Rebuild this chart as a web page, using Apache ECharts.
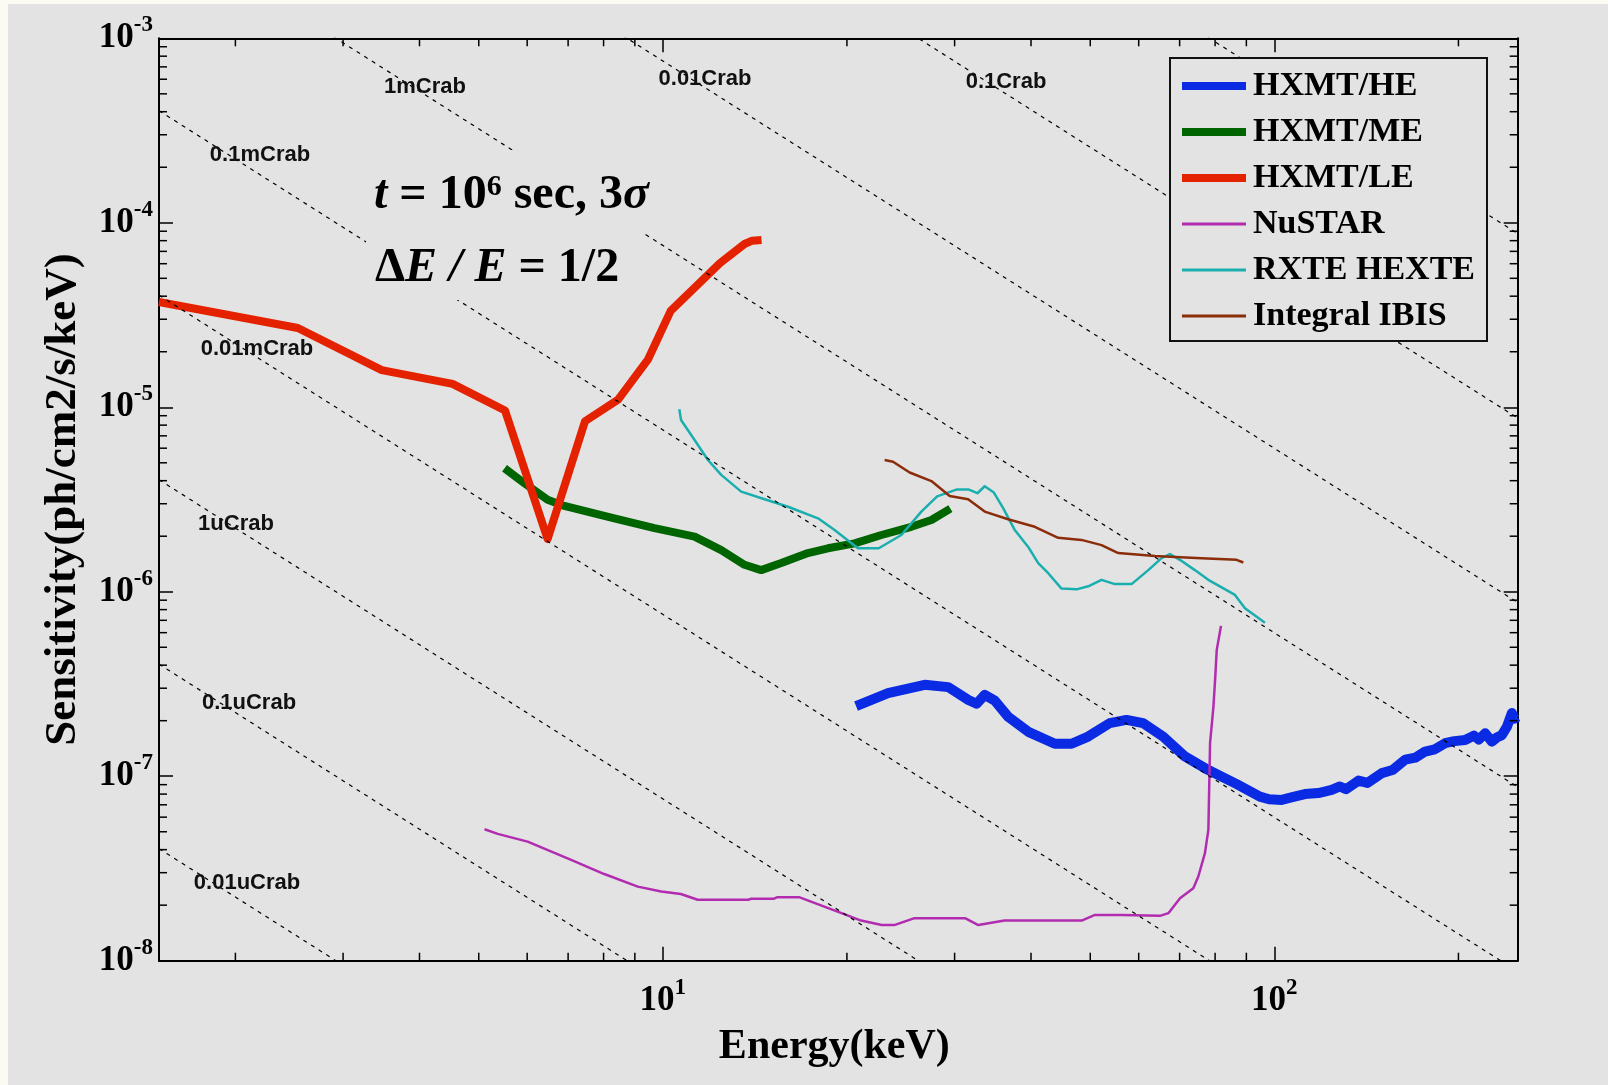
<!DOCTYPE html>
<html><head><meta charset="utf-8">
<script src="https://cdn.jsdelivr.net/npm/echarts@6/dist/echarts.min.js"></script>
<style>
html,body{margin:0;padding:0;background:#fbfbf4;width:1608px;height:1085px;overflow:hidden}
#chart{position:absolute;left:8px;top:4px;width:1600px;height:1081px}
</style></head><body><div id="chart"></div>
<script>
// ---------- data (energy keV, sensitivity ph/cm2/s/keV) ----------
const seriesNames = ['HXMT/HE','HXMT/ME','HXMT/LE','NuSTAR','RXTE HEXTE','Integral IBIS'];

const heData = [[20.7,2.40e-7],[23.35,2.82e-7],[26.8,3.13e-7],[29.3,3.04e-7],[31.6,2.59e-7],[32.6,2.47e-7],[33.6,2.76e-7],[34.9,2.57e-7],[36.7,2.10e-7],[39.6,1.74e-7],[43.75,1.50e-7],[46.6,1.50e-7],[49.6,1.64e-7],[53.8,1.94e-7],[57.3,2.02e-7],[61.0,1.94e-7],[65.8,1.64e-7],[71.4,1.28e-7],[78.0,1.08e-7],[86.8,9.06e-8],[94.7,7.75e-8],[98,7.5e-8],[102.8,7.44e-8],[107,7.7e-8],[112.2,8.0e-8],[118,8.1e-8],[124.1,8.43e-8],[128,8.8e-8],[131,8.5e-8],[137.3,9.47e-8],[142,9.2e-8],[149.9,1.04e-7],[156,1.08e-7],[163.7,1.23e-7],[170,1.26e-7],[176.4,1.36e-7],[183,1.40e-7],[190.2,1.51e-7],[197,1.55e-7],[205.1,1.57e-7],[212,1.66e-7],[216,1.58e-7],[221.2,1.71e-7],[226.8,1.54e-7],[231,1.62e-7],[235.5,1.67e-7],[240,1.85e-7],[244.6,2.20e-7],[247,2.05e-7],[250,2.10e-7]];

const meData = [[5.51,4.67e-6],[5.94,3.87e-6],[6.48,3.15e-6],[6.90,2.92e-6],[8.33,2.50e-6],[9.69,2.21e-6],[11.27,1.99e-6],[12.46,1.68e-6],[13.6,1.40e-6],[14.48,1.31e-6],[15.62,1.43e-6],[17.27,1.62e-6],[18.62,1.72e-6],[20.59,1.83e-6],[22.77,2.03e-6],[25.49,2.25e-6],[27.49,2.45e-6],[29.53,2.82e-6]];

const leData = [[1.5,3.72e-5],[2.53,2.69e-5],[3.47,1.59e-5],[4.53,1.34e-5],[5.52,9.6e-6],[6.48,1.93e-6],[7.46,8.4e-6],[8.45,1.10e-5],[9.46,1.82e-5],[10.3,3.33e-5],[12.4,6.05e-5],[13.6,7.67e-5],[14.0,8.0e-5],[14.5,8.07e-5]];

const nustarData = [[5.11,5.16e-8],[5.37,4.87e-8],[6.01,4.42e-8],[7.08,3.52e-8],[8.02,2.95e-8],[9.10,2.52e-8],[9.94,2.37e-8],[10.7,2.30e-8],[11.4,2.14e-8],[13.8,2.14e-8],[13.95,2.17e-8],[15.2,2.17e-8],[15.4,2.21e-8],[16.7,2.21e-8],[19.6,1.81e-8],[21.1,1.65e-8],[22.8,1.56e-8],[23.9,1.56e-8],[25.8,1.70e-8],[31.2,1.70e-8],[32.8,1.56e-8],[36.2,1.65e-8],[48.4,1.65e-8],[50.9,1.77e-8],[56.3,1.77e-8],[65.0,1.75e-8],[67.1,1.81e-8],[70.1,2.18e-8],[73.7,2.47e-8],[75.1,2.86e-8],[77.0,3.83e-8],[78.0,5.12e-8],[78.5,1.51e-7],[79.5,2.38e-7],[80.0,3.33e-7],[80.5,4.84e-7],[81.8,6.53e-7]];

const hexteData = [[10.64,9.76e-6],[10.71,8.53e-6],[11.27,6.65e-6],[11.85,5.18e-6],[12.46,4.30e-6],[13.43,3.49e-6],[14.67,3.17e-6],[16.02,2.89e-6],[17.94,2.50e-6],[19.09,2.16e-6],[20.85,1.72e-6],[22.55,1.72e-6],[24.55,2.03e-6],[26.47,2.72e-6],[28.09,3.29e-6],[30.2,3.58e-6],[31.66,3.58e-6],[32.69,3.42e-6],[33.6,3.73e-6],[34.78,3.45e-6],[36.02,2.84e-6],[37.63,2.16e-6],[39.58,1.75e-6],[41.1,1.43e-6],[42.68,1.26e-6],[44.87,1.04e-6],[47.48,1.03e-6],[49.62,1.07e-6],[52.17,1.16e-6],[54.85,1.10e-6],[58.41,1.10e-6],[62.21,1.31e-6],[65.4,1.52e-6],[67.48,1.60e-6],[70.08,1.49e-6],[74.13,1.31e-6],[77.98,1.16e-6],[86.22,9.61e-7],[89.53,8.14e-7],[96.52,6.80e-7]];

const ibisData = [[23.05,5.18e-6],[23.79,5.07e-6],[25.33,4.43e-6],[27.49,3.98e-6],[29.45,3.30e-6],[31.57,3.17e-6],[33.6,2.72e-6],[36.69,2.47e-6],[40.57,2.25e-6],[44.31,1.96e-6],[48.37,1.91e-6],[52.17,1.79e-6],[55.55,1.62e-6],[63.78,1.56e-6],[76.03,1.52e-6],[86.76,1.49e-6],[88.97,1.44e-6]];

// Crab reference lines (end points at the two x-axis limits)
const crabLineEnds = [
  [[1.5,4.05e-8],[250,8.74e-13]],
  [[1.5,4.05e-7],[250,8.74e-12]],
  [[1.5,4.05e-6],[250,8.74e-11]],
  [[1.5,4.05e-5],[250,8.74e-10]],
  [[1.5,4.05e-4],[250,8.74e-9]],
  [[1.5,4.05e-3],[250,8.74e-8]],
  [[1.5,4.05e-2],[250,8.74e-7]],
  [[1.5,4.05e-1],[250,8.74e-6]],
  [[1.5,4.05],[250,8.74e-5]]
];
const crabLabels = ['0.01uCrab','0.1uCrab','1uCrab','0.01mCrab','0.1mCrab','1mCrab','0.01Crab','0.1Crab'];

// axis extents and tick values
const xRange = [1.5, 250];
const yRange = [1e-8, 1e-3];
const xMinorTicks = [2,3,4,5,6,7,8,9,20,30,40,50,60,70,80,90,200];
const yMinorTicks = [2e-8,3e-8,4e-8,5e-8,6e-8,7e-8,8e-8,9e-8,
  2e-7,3e-7,4e-7,5e-7,6e-7,7e-7,8e-7,9e-7,
  2e-6,3e-6,4e-6,5e-6,6e-6,7e-6,8e-6,9e-6,
  2e-5,3e-5,4e-5,5e-5,6e-5,7e-5,8e-5,9e-5,
  2e-4,3e-4,4e-4,5e-4,6e-4,7e-4,8e-4,9e-4];

// ---------- styling / layout ----------
const OFF = [8, 4]; // chart div offset in page
const colors = ['#0a2ae4','#006400','#e52200','#b22cb0','#1aaeae','#8b2d0a'];
const widths = [10, 8, 8, 2.5, 2.5, 2.5];
const serif = 'Liberation Serif';

function powFmt(v) {
  const e = Math.log10(v);
  const n = Math.round(e);
  if (Math.abs(e - n) > 0.01) return '';
  return '{b|10}{s|' + n + '}';
}
const labelRich = {
  b: {fontFamily: serif, fontWeight: 'bold', fontSize: 35, color: '#000', padding: [7, 0, 7, 0]},
  s: {fontFamily: serif, fontWeight: 'bold', fontSize: 23, color: '#000', verticalAlign: 'top'}
};
const axLine = {show: true, onZero: false, lineStyle: {color: '#000', width: 2}};
const axTick = {show: true, inside: true, length: 14, lineStyle: {color: '#000', width: 1.5}};

function tickSeries(vals, dir) {
  return {
    type: 'custom', silent: true, z: 4, xAxisIndex: 0, yAxisIndex: 0,
    data: vals.map(v => dir === 'x' ? [v, yRange[0]] : [xRange[0], v]),
    renderItem(params, api) {
      const cs = params.coordSys;
      const p = api.coord([api.value(0), api.value(1)]);
      const L = 8, st = {stroke: '#000', lineWidth: 1.5};
      if (dir === 'x') {
        const x = p[0], yb = cs.y + cs.height, yt = cs.y;
        return {type: 'group', children: [
          {type: 'line', shape: {x1: x, y1: yb, x2: x, y2: yb - L}, style: st},
          {type: 'line', shape: {x1: x, y1: yt, x2: x, y2: yt + L}, style: st}
        ]};
      }
      const y = p[1], xl = cs.x, xr = cs.x + cs.width;
      return {type: 'group', children: [
        {type: 'line', shape: {x1: xl, y1: y, x2: xl + L, y2: y}, style: st},
        {type: 'line', shape: {x1: xr, y1: y, x2: xr - L, y2: y}, style: st}
      ]};
    }
  };
}

const dataSets = [heData, meData, leData, nustarData, hexteData, ibisData];
const series = [];
dataSets.forEach((d, i) => {
  series.push({
    name: seriesNames[i], type: 'line', data: d, showSymbol: false, symbol: 'none',
    z: 2, silent: true,
    lineStyle: {color: colors[i], width: widths[i], join: 'round', cap: 'butt'},
    itemStyle: {color: colors[i], borderWidth: 0}
  });
});
crabLineEnds.forEach(d => {
  series.push({
    type: 'line', data: d, showSymbol: false, symbol: 'none', z: 3, silent: true,
    lineStyle: {color: '#000', width: 1.2, type: [4, 5]}
  });
});
series.push(tickSeries(xMinorTicks, 'x'));
series.push(tickSeries(yMinorTicks, 'y'));

// crab label page centres
const crabLabelPos = [[247,883],[249,703],[236,524],[257,349],[260,155],[425,87],[705,79],[1006,82]];
const graphicEls = crabLabels.map((t, i) => ({
  type: 'text', x: crabLabelPos[i][0] - OFF[0], y: crabLabelPos[i][1] - OFF[1], z: 6,
  style: {text: t, font: 'bold 22px "Liberation Sans"', fill: '#111', align: 'center', verticalAlign: 'middle'}
}));
const eqRich = {
  n: {fontFamily: serif, fontSize: 48, fontWeight: 'bold', color: '#000'},
  i: {fontFamily: serif, fontSize: 48, fontWeight: 'bold', fontStyle: 'italic', color: '#000'},
  u: {fontFamily: serif, fontSize: 30, fontWeight: 'bold', color: '#000', verticalAlign: 'top'}
};
graphicEls.push({type: 'rect', z: 10, shape: {x: 366 - OFF[0], y: 150 - OFF[1], width: 279, height: 150}, style: {fill: '#e3e3e3'}});
graphicEls.push({type: 'text', z: 11, x: 374 - OFF[0], y: 196 - OFF[1],
  style: {text: '{i|t}{n| = 10}{u|6}{n| sec, 3}{i|σ}', rich: eqRich, align: 'left', verticalAlign: 'middle'}});
graphicEls.push({type: 'text', z: 11, x: 375 - OFF[0], y: 269 - OFF[1],
  style: {text: '{n|Δ}{i|E}{n| }{i|/}{n| }{i|E}{n| = 1/2}', rich: eqRich, align: 'left', verticalAlign: 'middle'}});

const thick = 'path://M0,0H64V8H0Z', thin = 'path://M0,0H64V3H0Z';
const option = {
  backgroundColor: '#e3e3e3',
  animation: false,
  grid: {left: 151, top: 34.3, right: 90.3, bottom: 124.3, containLabel: false},
  legend: {
    orient: 'vertical', left: 1170 - OFF[0], top: 58 - OFF[1], z: 10,
    itemWidth: 64, itemHeight: 8, itemGap: 12, padding: [11, 12, 8, 12],
    backgroundColor: '#e3e3e3', borderColor: '#111', borderWidth: 2,
    selectedMode: false,
    itemStyle: {borderWidth: 0},
    textStyle: {fontFamily: serif, fontWeight: 'bold', fontSize: 34, color: '#000', padding: [0, 0, 0, 2]},
    data: seriesNames.map((n, i) => ({name: n, icon: i < 3 ? thick : thin}))
  },
  xAxis: [
    {type: 'log', logBase: 10, min: xRange[0], max: xRange[1], position: 'bottom',
     axisLine: axLine, axisTick: axTick, splitLine: {show: false},
     axisLabel: {margin: 16, formatter: powFmt, rich: labelRich},
     name: 'Energy(keV)', nameLocation: 'middle', nameGap: 65,
     nameTextStyle: {fontFamily: serif, fontWeight: 'bold', fontSize: 42, color: '#000', padding: [0, 8, 0, 0]}},
    {type: 'log', logBase: 10, min: xRange[0], max: xRange[1], position: 'top',
     axisLine: axLine, axisTick: axTick, splitLine: {show: false}, axisLabel: {show: false}}
  ],
  yAxis: [
    {type: 'log', logBase: 10, min: yRange[0], max: yRange[1], position: 'left',
     axisLine: axLine, axisTick: axTick, splitLine: {show: false},
     axisLabel: {margin: 6, formatter: powFmt, rich: labelRich},
     name: 'Sensitivity(ph/cm2/s/keV)', nameLocation: 'middle', nameGap: 73,
     nameTextStyle: {fontFamily: serif, fontWeight: 'bold', fontSize: 45, color: '#000'}},
    {type: 'log', logBase: 10, min: yRange[0], max: yRange[1], position: 'right',
     axisLine: axLine, axisTick: axTick, splitLine: {show: false}, axisLabel: {show: false}}
  ],
  graphic: {elements: graphicEls},
  series: series
};
const chart = echarts.init(document.getElementById('chart'), null, {renderer: 'canvas'});
chart.setOption(option);
</script></body></html>
